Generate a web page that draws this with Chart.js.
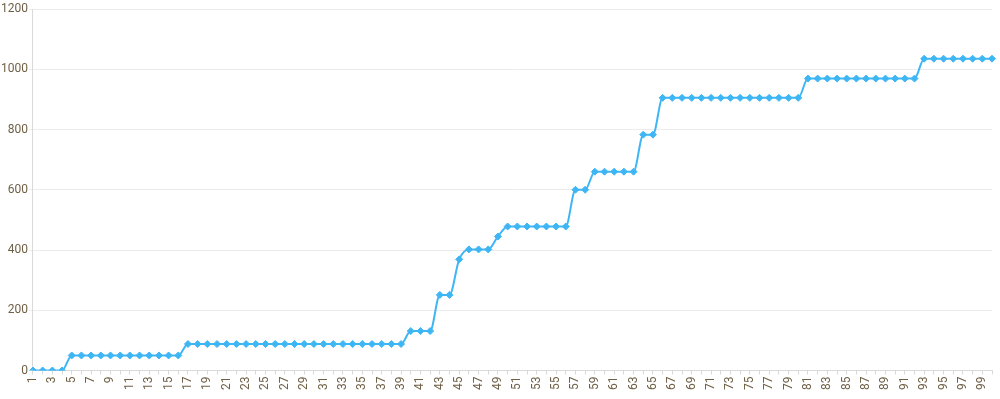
<!DOCTYPE html>
<html>
<head>
<meta charset="utf-8">
<script src="https://cdn.jsdelivr.net/npm/chart.js@4/dist/chart.umd.min.js"></script>
<style>
  html, body { margin: 0; padding: 0; background: #fff; }
  #wrap { width: 1000px; height: 399px; }
</style>
</head>
<body>
<div id="wrap"><canvas id="myChart"></canvas></div>
<script>
'use strict';

// x categories 1..100
let dayLabels = [];
for (let i = 1; i <= 100; i++) {
  dayLabels.push(String(i));
}

// cumulative values
let totals = [
  0, 0, 0, 0, 50, 50, 50, 50, 50, 50,
  50, 50, 50, 50, 50, 50, 88, 88, 88, 88,
  88, 88, 88, 88, 88, 88, 88, 88, 88, 88,
  88, 88, 88, 88, 88, 88, 88, 88, 88, 131,
  131, 131, 251, 251, 369, 402, 402, 402, 445, 478,
  478, 478, 478, 478, 478, 478, 600, 600, 660, 660,
  660, 660, 660, 783, 783, 905, 905, 905, 905, 905,
  905, 905, 905, 905, 905, 905, 905, 905, 905, 905,
  969, 969, 969, 969, 969, 969, 969, 969, 969, 969,
  969, 969, 1035, 1035, 1035, 1035, 1035, 1035, 1035, 1035
];

let yTicks = [0, 200, 400, 600, 800, 1000, 1200];

let lineColor = '#3fb6f4';
let textColor = '#6e5f45';

const config = {
  type: 'line',
  data: {
    labels: dayLabels,
    datasets: [
      {
        data: totals,
        borderColor: lineColor,
        backgroundColor: lineColor,
        borderWidth: 2,
        pointStyle: 'rectRot',
        pointRadius: 3.5,
        pointBorderWidth: 1,
        cubicInterpolationMode: 'monotone',
        fill: false,
      },
    ],
  },
  options: {
    responsive: true,
    maintainAspectRatio: false,
    animation: false,
    layout: { padding: { top: 9, right: 8, left: 0, bottom: 7 } },
    plugins: {
      legend: { display: false },
      tooltip: { enabled: false },
    },
    scales: {
      x: {
        offset: false,
        afterFit: function (scale) {
          scale.paddingRight = 0;
        },
        grid: {
          drawOnChartArea: false,
          drawTicks: true,
          tickLength: 4,
          color: '#d9d9d9',
        },
        border: { color: '#d9d9d9' },
        ticks: {
          autoSkip: false,
          maxRotation: 90,
          minRotation: 90,
          padding: 2,
          color: textColor,
          font: { family: 'Roboto', size: 12 },
          callback: function (value, index) {
            return index % 2 === 0 ? dayLabels[index] : '';
          },
        },
      },
      y: {
        min: 0,
        max: 1200,
        afterBuildTicks: function (axis) {
          axis.ticks = yTicks.map(function (v) { return { value: v }; });
        },
        grid: {
          color: '#ececec',
          tickLength: 4,
        },
        border: { color: '#d9d9d9' },
        ticks: {
          padding: 1,
          color: textColor,
          font: { family: 'Roboto', size: 12 },
          callback: function (value) {
            return String(value);
          },
        },
      },
    },
  },
};

let chartCanvas = document.getElementById('myChart').getContext('2d');
const myChart = new Chart(chartCanvas, config);
</script>
</body>
</html>
